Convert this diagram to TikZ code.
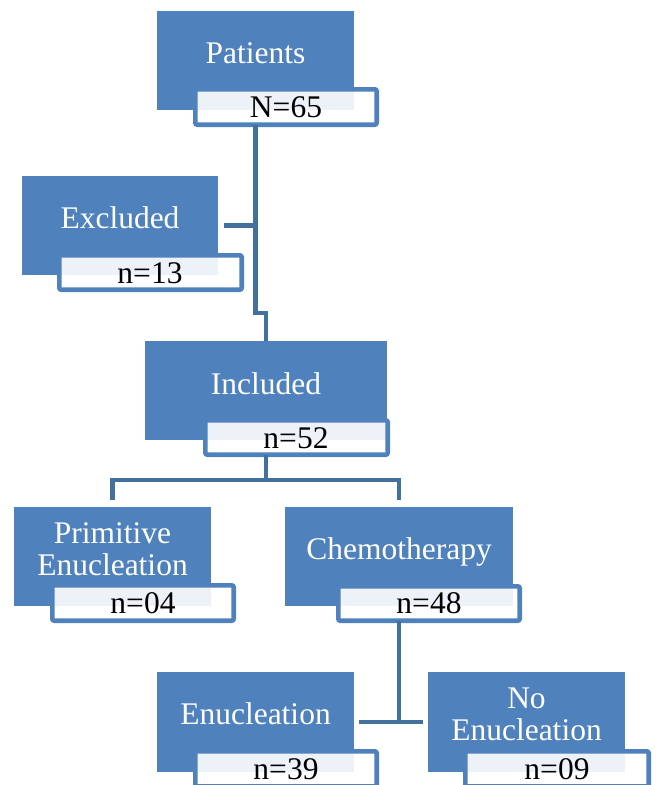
\documentclass[tikz,border=0pt]{standalone}
\usepackage{fontspec}
\setmainfont{Liberation Serif}
\definecolor{boxblue}{HTML}{4F81BD}
\definecolor{linkblue}{HTML}{41719C}
\tikzset{
  bluebox/.style={fill=boxblue, draw=none, inner sep=0pt, outer sep=0pt, anchor=north west},
  countbox/.style={fill=white, fill opacity=0.9, draw=boxblue, draw opacity=1, line width=4.6pt, rounded corners=2pt, inner sep=0pt, outer sep=0pt, anchor=north west},
  wtext/.style={text=white, font=\fontsize{31.5}{32}\selectfont, inner sep=0pt, anchor=base},
  ktext/.style={text=black, font=\fontsize{31.5}{32}\selectfont, inner sep=0pt, anchor=base},
  conn/.style={draw=linkblue, line width=4.6pt}
}
\begin{document}
\begin{tikzpicture}[x=1pt,y=-1pt]
\useasboundingbox (0,0) rectangle (656,785);
% blue boxes
\node[bluebox, minimum width=197pt, minimum height=99pt] (patients) at (157,11) {};
\node[bluebox, minimum width=196pt, minimum height=99pt] (excluded) at (22,176) {};
\node[bluebox, minimum width=242pt, minimum height=99pt] (included) at (145,341) {};
\node[bluebox, minimum width=197pt, minimum height=99pt] (prim) at (14,507) {};
\node[bluebox, minimum width=228pt, minimum height=99pt] (chemo) at (285,507) {};
\node[bluebox, minimum width=197pt, minimum height=100pt] (enuc) at (157,672) {};
\node[bluebox, minimum width=197pt, minimum height=100pt] (noenuc) at (428,672) {};
% count boxes
\node[countbox, minimum width=181.4pt, minimum height=35.4pt] (patn) at (195.3,89.3) {};
\node[countbox, minimum width=182.4pt, minimum height=34.4pt] (excn) at (59.3,255.3) {};
\node[countbox, minimum width=182.4pt, minimum height=34.4pt] (incn) at (205.3,420.3) {};
\node[countbox, minimum width=181.4pt, minimum height=35.4pt] (primn) at (52.3,585.3) {};
\node[countbox, minimum width=181.4pt, minimum height=34.4pt] (chemon) at (338.3,586.3) {};
\node[countbox, minimum width=181.4pt, minimum height=35pt] (enucn) at (195.3,751.3) {};
\node[countbox, minimum width=183.4pt, minimum height=35pt] (noenucn) at (465.3,751.3) {};
% texts
\node[wtext] (tpat) at (255.5,63) {Patients};
\node[ktext] (tpatn) at (286,117) {N=65};
\node[wtext] (texc) at (120,228) {Excluded};
\node[ktext] (texcn) at (150,283) {n=13};
\node[wtext] (tinc) at (266,394) {Included};
\node[ktext] (tincn) at (296,448) {n=52};
\node[wtext] (tprim1) at (112.5,543) {Primitive};
\node[wtext] (tprim2) at (112.5,575) {Enucleation};
\node[ktext] (tprimn) at (143,613) {n=04};
\node[wtext] (tchemo) at (399,559) {Chemotherapy};
\node[ktext] (tchemon) at (429,613) {n=48};
\node[wtext] (tenuc) at (255.5,724) {Enucleation};
\node[ktext] (tenucn) at (286,779) {n=39};
\node[wtext] (tno1) at (526.5,708) {No};
\node[wtext] (tno2) at (526.5,740) {Enucleation};
\node[ktext] (tnon) at (557,779) {n=09};
% connectors
\coordinate (j1) at (255.5,313);
\draw[conn] (patients.south |- patn.south) -- (j1) -| (included.north);
\draw[conn] ([xshift=6pt]excluded.east) -- (excluded.east -| j1);
\coordinate (j2) at (266,480);
\draw[conn] (included.south |- incn.south) -- (j2);
\draw[conn] ([yshift=7pt]prim.north) |- (j2) -| ([yshift=7pt]chemo.north);
\coordinate (j3) at (399,722);
\draw[conn] (chemo.south |- chemon.south) -- (j3);
\draw[conn] ([xshift=5pt]enuc.east) -- ([xshift=-5pt]noenuc.west);
\end{tikzpicture}
\end{document}
